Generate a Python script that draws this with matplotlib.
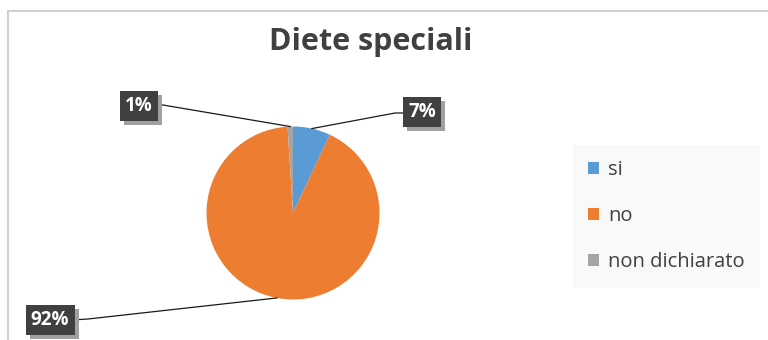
import numpy as np
import matplotlib
matplotlib.use("Agg")
import matplotlib.pyplot as plt
from matplotlib.patches import Rectangle
import matplotlib.patheffects as pe

plt.rcParams['font.family'] = ['Open Sans', 'DejaVu Sans']

categories = ["si", "no", "non dichiarato"]
values = [7, 92, 1]
pct_labels = ["7%", "92%", "1%"]
colors = ["#5B9BD5", "#ED7D31", "#A5A5A5"]

W, H = 768, 340
fig = plt.figure(figsize=(W / 100, H / 100), dpi=100)
ax = fig.add_axes([0, 0, 1, 1])

# chart frame
ax.add_patch(Rectangle((8, -20), W + 20, H - 11 + 20, fill=False,
                       edgecolor="#d0d0d0", linewidth=1.5))

ax.text(371, H - 42, "Diete speciali", ha="center", va="center",
        fontsize=22, fontweight="bold", color="#404040")

cx, cy, r = 293, H - 213, 86.5
wedges, _ = ax.pie(values, colors=colors, startangle=90, counterclock=False,
                   center=(cx, cy), radius=r, frame=True,
                   wedgeprops=dict(linewidth=0))
ax.set_xlim(0, W)
ax.set_ylim(0, H)
ax.set_aspect("auto")
ax.axis("off")

# label positions (centre of label box) and elbow points, in pixels
label_pos = [(422, 112), (50, 320), (139, 106)]
elbows = [(395, 113), (88, 319), (157, 104)]
box_edges = [(405, 113), (72, 320), (156, 104)]

for w, lab, lp, el, be in zip(wedges, pct_labels, label_pos, elbows, box_edges):
    mid = np.deg2rad((w.theta1 + w.theta2) / 2)
    ax_ = cx + r * np.cos(mid)
    ay_ = cy + r * np.sin(mid)
    ax.plot([ax_, el[0], be[0]], [ay_, H - el[1], H - be[1]],
            color="#1a1a1a", linewidth=0.9, zorder=3)
    t = ax.text(lp[0], H - lp[1], lab, ha="center", va="center",
                fontsize=13.5, fontweight="bold", color="white", zorder=5,
                bbox=dict(boxstyle="square,pad=0.28", facecolor="#404040",
                          edgecolor="none"))
    t.get_bbox_patch().set_path_effects([
        pe.withSimplePatchShadow(offset=(3, -3), shadow_rgbFace="#a0a0a0", alpha=1.0),
        pe.Normal()])

leg = ax.legend(wedges, categories, loc="upper left",
                bbox_to_anchor=(573 / W, 1 - 145 / H), frameon=True,
                fontsize=14.5, handlelength=0.55, handleheight=0.55,
                handletextpad=0.45, labelspacing=1.3, borderpad=0.75,
                borderaxespad=0, labelcolor="#404040", fancybox=False)
leg.get_frame().set_facecolor("#f8f8f8")
leg.get_frame().set_edgecolor("none")

fig.savefig("out.png", dpi=100)
